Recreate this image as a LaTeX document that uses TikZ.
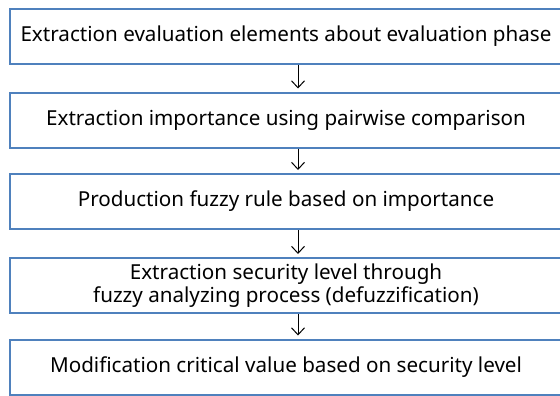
\documentclass[tikz,border=0pt]{standalone}
\usepackage{fontspec}
\setsansfont{Noto Sans}
\usetikzlibrary{arrows.meta}
\definecolor{boxblue}{RGB}{79,129,189}

\begin{document}
\begin{tikzpicture}
[lineDecorateout/.style={-{Straight Barb[length=7bp,width=13bp]},line width=1bp,shorten >=3bp}, %
phase/.style={shape=rectangle,draw=boxblue,line width=2bp,minimum width=552bp,minimum height=55bp,%
inner sep=0pt,align=center,font=\sffamily\fontsize{20.7}{23}\selectfont}]

\useasboundingbox (0,0) rectangle (560bp,-396bp);

%% nodes or vertices
\foreach \nodename/\y/\caption in {
elements/36/{Extraction evaluation elements about evaluation phase},
importance/120/{Extraction importance using pairwise comparison},
rule/201.5/{Production fuzzy rule based on importance},
level/285.5/{Extraction security level through\\fuzzy analyzing process (defuzzification)},
critical/367/{Modification critical value based on security level}}
{
\node (\nodename) at (286bp,-\y bp) [phase] {\caption};
}

%% edges or lines
\path
\foreach \startnode/\endnode in {elements/importance, importance/rule, rule/level, level/critical}
{
([xshift=12bp]\startnode.south) edge[lineDecorateout] ([xshift=12bp]\endnode.north)
};

\end{tikzpicture}
\end{document}
